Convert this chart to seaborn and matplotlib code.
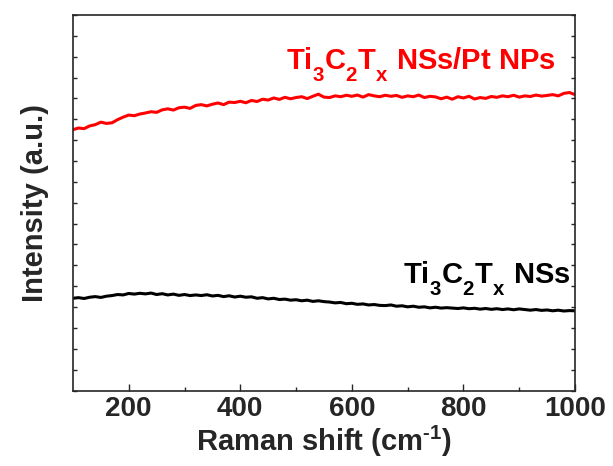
import matplotlib
matplotlib.use("Agg")
import matplotlib.pyplot as plt
import matplotlib._mathtext as _mt
import seaborn as sns
import numpy as np
import pandas as pd

x_shift = list(range(100, 1001, 10))

pt_intensity = [
    12.50, 12.58, 12.55, 12.68, 12.74, 12.86, 12.80, 12.83, 12.98, 13.10,
    13.20, 13.17, 13.25, 13.30, 13.36, 13.33, 13.45, 13.50, 13.44, 13.55,
    13.58, 13.52, 13.66, 13.70, 13.64, 13.72, 13.78, 13.70, 13.82, 13.80,
    13.86, 13.79, 13.90, 13.85, 13.96, 13.92, 14.02, 13.95, 14.05, 13.98,
    14.04, 14.08, 13.99, 14.10, 14.20, 14.06, 14.04, 14.12, 14.08, 14.15,
    14.10, 14.16, 14.06, 14.18, 14.12, 14.08, 14.15, 14.10, 14.14, 14.05,
    14.12, 14.08, 14.16, 14.04, 14.10, 14.07, 13.98, 14.06, 13.96, 14.08,
    14.02, 14.10, 13.97, 14.04, 14.00, 14.09, 14.05, 14.12, 14.08, 14.15,
    14.06, 14.12, 14.09, 14.16, 14.11, 14.14, 14.18, 14.12, 14.24, 14.28,
    14.18,
]

ns_intensity = [
    4.42, 4.45, 4.41, 4.47, 4.50, 4.46, 4.52, 4.55, 4.60, 4.58,
    4.65, 4.62, 4.66, 4.63, 4.67, 4.60, 4.64, 4.58, 4.62, 4.56,
    4.60, 4.55, 4.58, 4.55, 4.59, 4.53, 4.56, 4.50, 4.54, 4.48,
    4.52, 4.47, 4.49, 4.42, 4.45, 4.39, 4.42, 4.36, 4.38, 4.33,
    4.35, 4.30, 4.33, 4.27, 4.30, 4.26, 4.24, 4.20, 4.22, 4.16,
    4.18, 4.13, 4.15, 4.10, 4.12, 4.08, 4.07, 4.10, 4.04, 4.06,
    4.01, 4.04, 3.99, 4.01, 3.96, 3.99, 3.95, 3.97, 3.95, 3.93,
    3.96, 3.92, 3.94, 3.90, 3.93, 3.89, 3.92, 3.88, 3.91, 3.87,
    3.91, 3.88, 3.85, 3.88, 3.84, 3.86, 3.82, 3.85, 3.81, 3.83,
    3.82,
]

series_labels = [r"Ti$_{3}$C$_{2}$T$_{x}$ NSs/Pt NPs", r"Ti$_{3}$C$_{2}$T$_{x}$ NSs"]
series_colors = ["#ff0000", "#000000"]
x_ticks = [200, 400, 600, 800, 1000]

df = pd.concat([
    pd.DataFrame({"x": x_shift, "y": pt_intensity, "s": "pt"}),
    pd.DataFrame({"x": x_shift, "y": ns_intensity, "s": "ns"}),
])

# deeper subscripts, like the reference
try:
    _mt.FontConstantsBase.sub1 = 0.75
    _mt.FontConstantsBase.sub2 = 0.85
except Exception:
    pass

sns.set_style("ticks")
plt.rcParams["font.family"] = ["Liberation Sans", "DejaVu Sans"]
plt.rcParams["font.weight"] = "bold"
plt.rcParams["mathtext.fontset"] = "custom"
plt.rcParams["mathtext.rm"] = "Liberation Sans:bold"
plt.rcParams["mathtext.it"] = "Liberation Sans:bold"
plt.rcParams["mathtext.bf"] = "Liberation Sans:bold"

fig = plt.figure(figsize=(6.13, 4.66), dpi=100)
ax = fig.add_axes([0.119, 0.162, 0.819, 0.806])

sns.lineplot(data=df, x="x", y="y", hue="s", palette={"pt": series_colors[0], "ns": series_colors[1]},
             linewidth=2.2, legend=False, ax=ax, estimator=None)

ax.set_xlim(100, 1000)
ax.set_ylim(0, 18)
ax.set_xticks(x_ticks)
ax.set_xticks(range(300, 1000, 200), minor=True)
ax.set_yticks(range(0, 19))
ax.set_yticklabels([])
ax.tick_params(axis="x", which="major", direction="in", length=5, width=1, labelsize=20, pad=4)
ax.tick_params(axis="x", which="minor", direction="in", length=3, width=1)
ax.tick_params(axis="y", which="major", direction="in", length=3, width=1, left=True, right=True)
for lab in ax.get_xticklabels():
    lab.set_fontweight("bold")
for sp in ax.spines.values():
    sp.set_linewidth(1.2)

ax.set_xlabel(r"Raman shift (cm$^{\text{-1}}$)", fontsize=21, fontweight="bold", labelpad=1)
ax.set_ylabel("Intensity (a.u.)", fontsize=21, fontweight="bold", labelpad=14)

ax.text(724, 15.4, series_labels[0], color=series_colors[0], fontsize=21, fontweight="bold",
        ha="center", va="baseline")
ax.text(842, 5.16, series_labels[1], color=series_colors[1], fontsize=21, fontweight="bold",
        ha="center", va="baseline")

fig.savefig("out.png", dpi=100)
